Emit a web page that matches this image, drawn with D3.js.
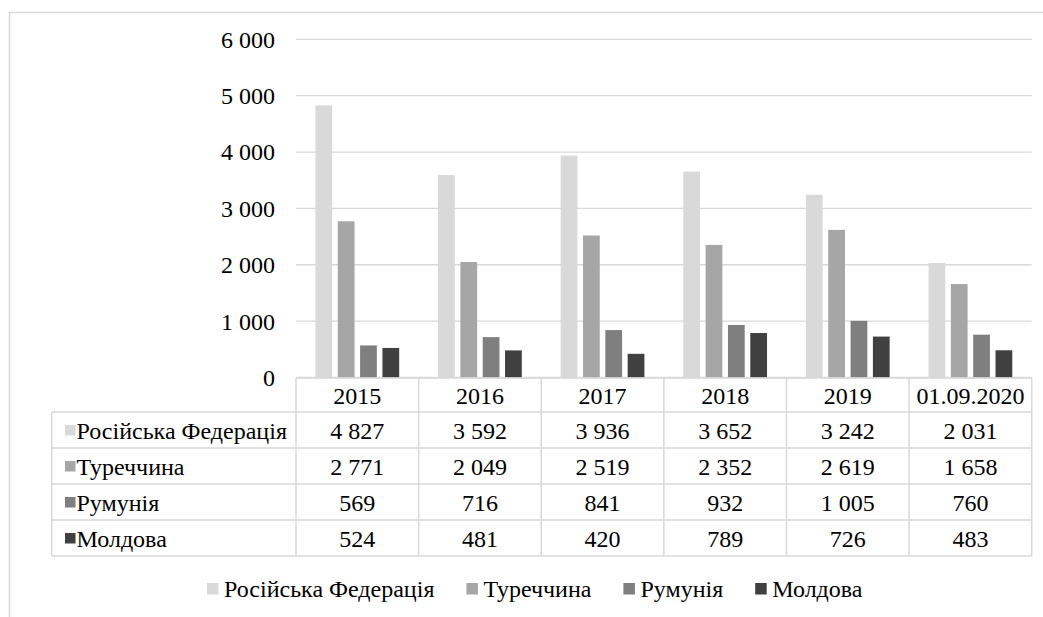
<!DOCTYPE html>
<html>
<head>
<meta charset="utf-8">
<script src="https://cdn.jsdelivr.net/npm/d3@7"></script>
<style>
  body { margin: 0; background: #fff; }
  svg text { font-family: 'Liberation Serif', 'Times New Roman', Times, 'DejaVu Serif', serif; fill: #000; }
</style>
</head>
<body>
<div id="chart"></div>
<script>
// years (columns of the data table)
var categories = ["2015", "2016", "2017", "2018", "2019", "01.09.2020"];
var seriesNames = ["Російська Федерація", "Туреччина", "Румунія", "Молдова"];
var russia  = [4827, 3592, 3936, 3652, 3242, 2031];
var turkey  = [2771, 2049, 2519, 2352, 2619, 1658];
var romania = [569, 716, 841, 932, 1005, 760];
var moldova = [524, 481, 420, 789, 726, 483];
var yTicks = [0, 1000, 2000, 3000, 4000, 5000, 6000];
var seriesColors = ["#d9d9d9", "#a6a6a6", "#7f7f7f", "#404040"];

/**
 * Constructor for the bar chart with a data table under it
 */
function BarTableChart(){
    var self = this;
    self.init();
};

BarTableChart.prototype.init = function(){
    var self = this;
    self.width = 1043;
    self.height = 617;
    self.plot = {left: 296, right: 1031.7, top: 39.3, bottom: 377.5};
    self.fontSize = 24;
    self.font = "'Liberation Serif', 'Times New Roman', Times, 'DejaVu Serif', serif";

    self.svg = d3.select("#chart").append("svg")
        .attr("width", self.width)
        .attr("height", self.height)
        .attr("font-family", self.font);

    // light frame round the chart area
    self.svg.append("rect")
        .attr("x", 9.5).attr("y", 12.5)
        .attr("width", self.width + 10).attr("height", self.height + 10)
        .attr("fill", "none")
        .attr("stroke", "#d9d9d9")
        .attr("stroke-width", 1.5);
};

// every text in the chart uses the same serif font
BarTableChart.prototype.label = function(sel){
    var self = this;
    return sel.style("font-family", self.font)
        .style("font-size", self.fontSize + "px");
};

BarTableChart.prototype.update = function(){
    var self = this;
    var p = self.plot;
    var values = [russia, turkey, romania, moldova];
    var fmt = d3.formatLocale({decimal: ",", thousands: " ", grouping: [3], currency: ["", ""]}).format(",d");

    var x0 = d3.scaleBand()
        .domain(categories)
        .range([p.left, p.right])
        .paddingInner(0.317)
        .paddingOuter(0.1585);
    var x1 = d3.scaleBand()
        .domain(d3.range(seriesNames.length))
        .range([0, x0.bandwidth()])
        .paddingInner(0.25);
    var y = d3.scaleLinear()
        .domain([0, 6000])
        .range([p.bottom, p.top]);
    var step = x0.step();

    // gridlines and y labels
    var grid = self.svg.append("g");
    grid.selectAll("line").data(yTicks).enter().append("line")
        .attr("x1", p.left).attr("x2", p.right)
        .attr("y1", function(d){ return y(d); })
        .attr("y2", function(d){ return y(d); })
        .attr("stroke", "#d9d9d9")
        .attr("stroke-width", 1.3);
    self.label(grid.selectAll("text").data(yTicks).enter().append("text"))
        .attr("x", 275)
        .attr("y", function(d){ return y(d); })
        .attr("dy", "0.35em")
        .attr("text-anchor", "end")
        .text(function(d){ return fmt(d); });

    // bars
    var groups = self.svg.append("g").selectAll("g")
        .data(values).enter().append("g")
        .attr("fill", function(d, i){ return seriesColors[i]; });
    groups.each(function(series, si){
        d3.select(this).selectAll("rect").data(series).enter().append("rect")
            .attr("x", function(d, ci){ return x0(categories[ci]) + x1(si); })
            .attr("y", function(d){ return y(d); })
            .attr("width", x1.bandwidth())
            .attr("height", function(d){ return y(0) - y(d); });
    });

    // data table
    var rowTops = [378, 412, 448, 484, 520, 556];
    var tableLeft = 51.7;
    var table = self.svg.append("g")
        .attr("stroke", "#d9d9d9")
        .attr("stroke-width", 1.5);
    // horizontal lines
    rowTops.forEach(function(ry, i){
        table.append("line")
            .attr("x1", i == 0 ? p.left : tableLeft).attr("x2", p.right)
            .attr("y1", ry).attr("y2", ry);
    });
    // vertical lines
    table.append("line")
        .attr("x1", tableLeft).attr("x2", tableLeft)
        .attr("y1", rowTops[1]).attr("y2", rowTops[5]);
    for (var c = 0; c <= categories.length; c++){
        var cx = p.left + c * step;
        table.append("line")
            .attr("x1", cx).attr("x2", cx)
            .attr("y1", rowTops[0]).attr("y2", rowTops[5]);
    }

    // header row
    self.label(self.svg.append("g").selectAll("text").data(categories).enter().append("text"))
        .attr("x", function(d){ return x0(d) + x0.bandwidth() / 2; })
        .attr("y", (rowTops[0] + rowTops[1]) / 2 + 1)
        .attr("dy", "0.35em")
        .attr("text-anchor", "middle")
        .text(function(d){ return d; });

    // body rows
    values.forEach(function(series, si){
        var cy = (rowTops[si + 1] + rowTops[si + 2]) / 2 + 1;
        self.svg.append("rect")
            .attr("x", 65).attr("y", cy - 6)
            .attr("width", 10.5).attr("height", 10.5)
            .attr("fill", seriesColors[si]);
        self.label(self.svg.append("text"))
            .attr("x", 76.5).attr("y", cy)
            .attr("dy", "0.35em")
            .text(seriesNames[si]);
        self.label(self.svg.append("g").selectAll("text").data(series).enter().append("text"))
            .attr("x", function(d, ci){ return x0(categories[ci]) + x0.bandwidth() / 2; })
            .attr("y", cy)
            .attr("dy", "0.35em")
            .attr("text-anchor", "middle")
            .text(function(d){ return fmt(d); });
    });

    // legend at the bottom
    var legend = self.svg.append("g");
    var lx = 207;
    var ly = 589;
    seriesNames.forEach(function(name, i){
        legend.append("rect")
            .attr("x", lx).attr("y", ly - 6)
            .attr("width", 11.5).attr("height", 11.5)
            .attr("fill", seriesColors[i]);
        var t = self.label(legend.append("text"))
            .attr("x", lx + 17).attr("y", ly)
            .attr("dy", "0.35em")
            .text(name);
        lx = lx + 17 + t.node().getComputedTextLength() + 32;
    });
};

var chart = new BarTableChart();
chart.update();
</script>
</body>
</html>
